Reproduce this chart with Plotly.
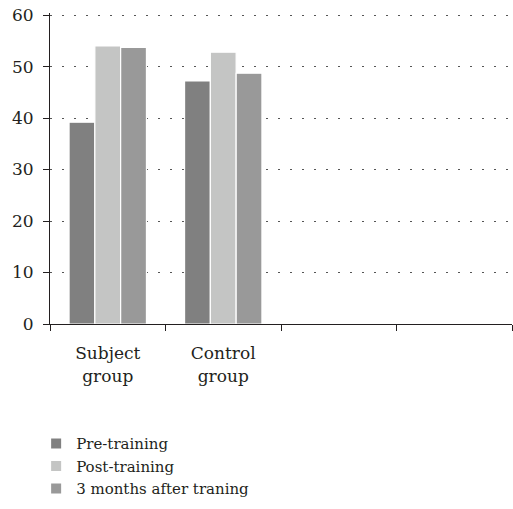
import plotly.graph_objects as go

categories = ["Subject<br>group", "Control<br>group", " ", "  "]
series_names = ["Pre-training", "Post-training", "3 months after traning"]
pre_training = [39.2, 47.2]
post_training = [54.0, 52.8]
after_3_months = [53.7, 48.7]
colors = ["#808080", "#c4c5c4", "#999999"]
y_ticks = [0, 10, 20, 30, 40, 50, 60]

font_family = "DejaVu Serif"

fig = go.Figure()
for name, vals, col in zip(series_names, [pre_training, post_training, after_3_months], colors):
    fig.add_trace(go.Bar(
        x=categories[:2], y=vals, name=name,
        marker=dict(color=col, line=dict(color="white", width=1.2)),
    ))

fig.update_layout(
    width=513, height=509,
    margin=dict(l=50, r=1, t=13, b=185),
    paper_bgcolor="white", plot_bgcolor="white",
    barmode="group", bargap=0.33, bargroupgap=0,
    font=dict(family=font_family, size=17, color="#231f20"),
    showlegend=True,
    legend=dict(
        orientation="v", x=-0.03, xanchor="left", y=-0.332, yanchor="top",
        font=dict(size=15), tracegroupgap=0, itemsizing="constant",
    ),
    xaxis=dict(
        type="category", categoryorder="array", categoryarray=categories,
        range=[-0.5, 3.5], tickson="boundaries", ticks="outside", ticklen=6,
        tickcolor="#231f20", showline=True, linecolor="#231f20", linewidth=1,
        showgrid=False, tickfont=dict(size=17), ticklabelstandoff=14,
    ),
    yaxis=dict(
        range=[0, 60.4], tickvals=y_ticks, ticks="outside", ticklen=6,
        tickcolor="#231f20", showline=True, linecolor="#231f20", linewidth=1,
        showgrid=True, gridcolor="#555555", griddash="2px,10px", gridwidth=1,
        zeroline=False, tickfont=dict(size=17), ticklabelstandoff=6,
    ),
)

fig.write_html(
    "out.html",
    config={"displayModeBar": False},
    post_script="document.body.style.margin='0';document.body.style.overflow='hidden';",
)
